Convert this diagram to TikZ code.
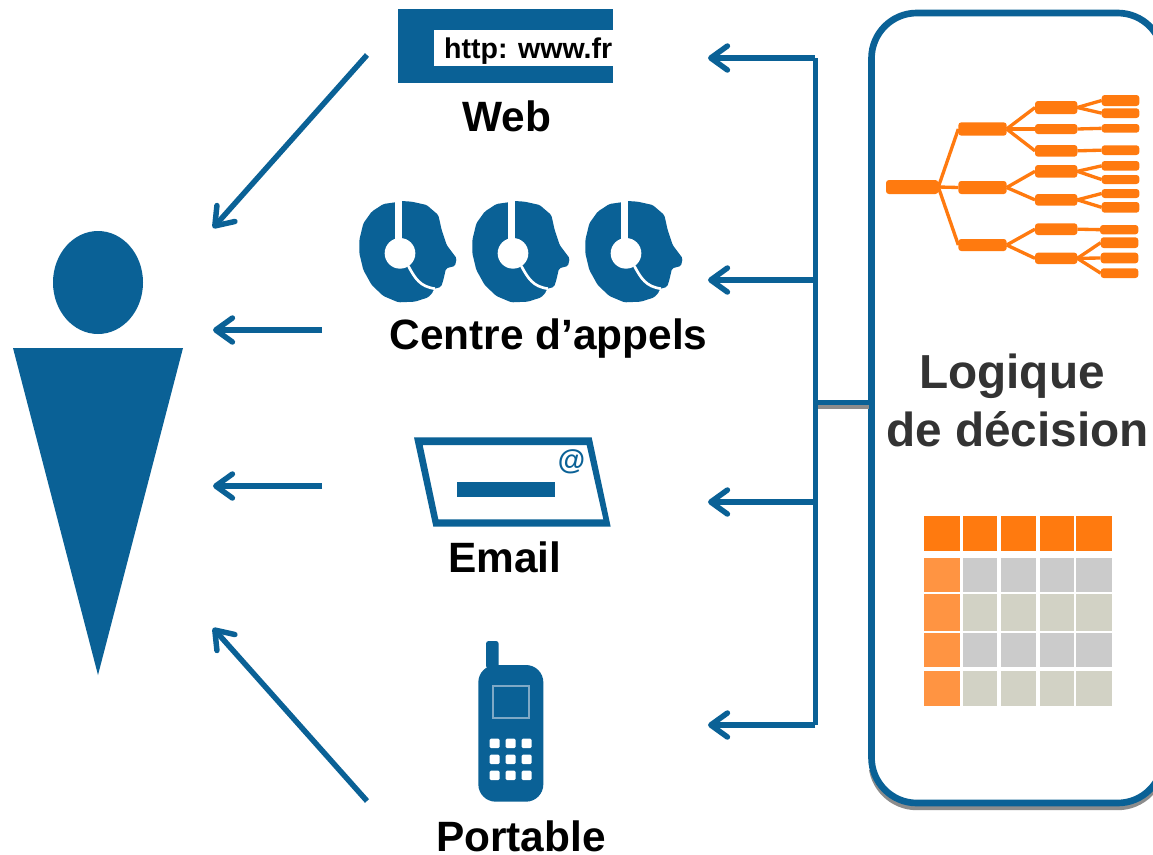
\documentclass[tikz,border=0pt]{standalone}
\usepackage{fontspec}
\setmainfont{Liberation Sans}
\usetikzlibrary{arrows.meta}
\definecolor{mainblue}{HTML}{0A6196}
\definecolor{screenline}{HTML}{7FA9C6}
\definecolor{treeorange}{HTML}{FF7A0F}
\definecolor{lightorange}{HTML}{FF9442}
\definecolor{cellgrey}{HTML}{CBCBCB}
\definecolor{cellbeige}{HTML}{D2D2C5}
\definecolor{textgrey}{HTML}{333333}
\tikzset{
  px/.style={x=0.75pt,y=-0.75pt},
  zoomed/.style={x=0.25pt,y=-0.25pt},
  label/.style={font=\fontsize{31.8pt}{36pt}\selectfont\bfseries,text=black,anchor=base,inner sep=0pt},
  biglabel/.style={font=\fontsize{35.8pt}{40pt}\selectfont\bfseries,text=textgrey,anchor=base,inner sep=0pt},
  flow/.style={draw=mainblue,line width=4.1pt,-{Straight Barb[length=12.5pt,width=18pt,line width=4.1pt,round]}},
  bus/.style={draw=mainblue,line width=4.1pt},
  treebox/.style={fill=treeorange,rounded corners=2.2pt,inner sep=0pt,outer sep=0pt},
  treeline/.style={draw=treeorange,line width=2.5pt},
}
\newcommand{\headicon}[1]{%
  \begin{scope}[shift={(#1,190)},zoomed]
    \fill[mainblue,rounded corners=1.2pt] (165,37)--(130,42)--(95,65)--(70,100)--(58,150)--(58,190)--(70,240)--(95,285)--(130,318)--(175,337)--(225,335)--(265,322)--(280,305)--(280,297)--(303,291)--(310,270)--(318,235)--(345,228)--(350,205)--(320,165)--(305,120)--(295,75)--(260,45)--(215,35)--(185,33)--cycle;
    \fill[white] (165,25) rectangle (185,150);
    \fill[white] (180,190) circle[radius=46];
    \draw[white,line width=2pt] (205,228) .. controls (225,265) and (240,290) .. (285,296);
  \end{scope}}
\begin{document}
\begin{tikzpicture}[px]
\useasboundingbox[fill=white] (0,0) rectangle (1153,854);

% person
\fill[mainblue] (98,282.5) ellipse[x radius=45,y radius=51.5];
\fill[mainblue] (13,348) -- (183,348) -- (98,675) -- cycle;

% web icon
\fill[mainblue] (398,9) rectangle (613,83);
\fill[white] (434,30) rectangle (613,66);
\node[font=\fontsize{21.4pt}{24pt}\selectfont\bfseries,anchor=base east,inner sep=0pt] (url) at (612.5,58) {http: www.fr};
\node[label] (web) at (507,131) {Web};

% call-centre icons
\headicon{340}
\headicon{453}
\headicon{566}
\node[label] (centre) at (548.5,349) {Centre d’appels};

% email icon
\begin{scope}[shift={(400,425)},zoomed]
  \fill[mainblue,even odd rule] (42,37)--(575,37)--(632,305)--(100,305)--cycle (68,60)--(560,60)--(610,283)--(115,283)--cycle;
  \fill[mainblue] (170,170) rectangle (465,217);
\end{scope}
\node[font=\fontsize{21pt}{24pt}\selectfont\bfseries,text=mainblue,inner sep=0pt] (at) at (571.5,462) {@};
\node[label] (email) at (505,572) {Email};

% phone icon
\begin{scope}[shift={(460,630)},zoomed]
  \fill[mainblue,rounded corners=2pt] (78,115) -- (78,33) -- (116,33) -- (116,115) -- cycle;
  \fill[mainblue,rounded corners=13pt] (55,105) rectangle (250,515);
  \draw[screenline,line width=1.6pt] (99,167) rectangle (208,264);
  \foreach \kx in {104,152,200}
    \foreach \ky in {340,388,436}
      \fill[white,rounded corners=1pt] (\kx-15,\ky-14) rectangle (\kx+15,\ky+14);
\end{scope}
\node[label] (portable) at (521,851) {Portable};

% decision box
\begin{scope}
  \clip (860,770) rectangle (1153,820);
  \draw[draw=black!45,line width=4.8pt,rounded corners=34pt] (871.5,17) rectangle (1163,807);
\end{scope}
\draw[draw=mainblue,line width=5pt,rounded corners=34pt] (871.5,13) rectangle (1163,803);
\coordinate (boxleft) at (871.5,402.5);
\node[biglabel] (logique) at (1012,388) {Logique};
\node[biglabel] (decision) at (1017.5,446) {de décision};

% decision tree
\foreach \n/\xa/\xb/\ya/\yb in {
  r/48/205/300/342,
  a/265/410/127/167, b/265/410/303/342, c/265/410/477/513,
  aa/495/622/63/102, ab/495/622/132/162, ac/495/622/195/230,
  ba/495/622/255/293, bb/495/622/342/377,
  ca/495/622/430/465, cb/495/622/518/552,
  l1/695/808/45/78, l2/695/808/85/114, l3/695/808/132/158, l4/695/808/196/225,
  l5/695/808/243/272, l6/695/808/285/312, l7/695/808/327/354, l8/695/808/366/398,
  l9/690/805/435/463, l10/692/805/472/504, l11/692/805/518/550, l12/692/805/565/594}
{
  \pgfmathsetmacro{\cx}{870+(\xa+\xb)/6}
  \pgfmathsetmacro{\cy}{80+(\ya+\yb)/6}
  \pgfmathsetmacro{\boxw}{(\xb-\xa)*0.25}
  \pgfmathsetmacro{\boxh}{(\yb-\ya)*0.25}
  \node[treebox,minimum width=\boxw pt,minimum height=\boxh pt] (\n) at (\cx,\cy) {};
}
\foreach \p/\q in {r/a,r/b,r/c,a/aa,a/ab,a/ac,b/ba,b/bb,c/ca,c/cb,
  aa/l1,aa/l2,ab/l3,ac/l4,ba/l5,ba/l6,bb/l7,bb/l8,ca/l9,cb/l10,cb/l11,cb/l12}
  \draw[treeline] (\p.east) -- (\q.west);

% decision table
\foreach \xa/\xb in {924/960,963/997,1001/1036,1039.5/1074,1076/1112}
  \fill[treeorange] (\xa,516) rectangle (\xb,551);
\foreach \ya/\yb in {558/592,594/631,633/667,671/706}
  \fill[lightorange] (924,\ya) rectangle (960,\yb);
\foreach \xa/\xb in {963/997,1001/1036,1039.5/1074,1076/1112}{
  \fill[cellgrey] (\xa,558) rectangle (\xb,592);
  \fill[cellbeige] (\xa,594) rectangle (\xb,631);
  \fill[cellgrey] (\xa,633) rectangle (\xb,667);
  \fill[cellbeige] (\xa,671) rectangle (\xb,706);
}

% connector anchors
\coordinate (bustop) at (815.3,58);
\coordinate (busbot) at (815.3,725);
\coordinate (stem) at (815.3,402.5);
\coordinate (b1) at (815.3,58);  \coordinate (o1) at (708,58);
\coordinate (b2) at (815.3,280); \coordinate (o2) at (708,280);
\coordinate (b3) at (815.3,502); \coordinate (o3) at (708,502);
\coordinate (b4) at (815.3,725); \coordinate (o4) at (708,725);
\coordinate (s1) at (367,55);  \coordinate (t1) at (213,228);
\coordinate (s2) at (322,330); \coordinate (t2) at (213,330);
\coordinate (s3) at (322,486); \coordinate (t3) at (213,486);
\coordinate (s4) at (367,801); \coordinate (t4) at (213,628);

% bus and connectors
\fill[black!45] (813,405) rectangle (869,409);
\draw[bus] (stem) -- (boxleft);
\draw[bus,line cap=square] (bustop) -- (busbot);
\foreach \i in {1,2,3,4}
  \draw[flow] (b\i) -- (o\i);
\foreach \i in {1,2,3,4}
  \draw[flow] (s\i) -- (t\i);
\end{tikzpicture}
\end{document}
